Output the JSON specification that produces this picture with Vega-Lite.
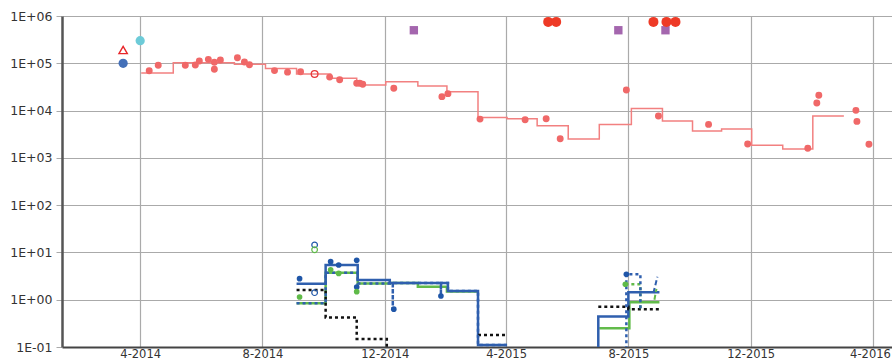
{
  "$schema": "https://vega.github.io/schema/vega-lite/v6.json",
  "width": 830,
  "height": 331,
  "autosize": {"type": "none"},
  "padding": {"left": 62, "top": 16, "right": 0, "bottom": 13},
  "background": "white",
  "config": {
    "view": {"stroke": null},
    "axis": {"labelFont": "DejaVu Sans", "labelColor": "#333", "labelFontSize": 12.5}
  },
  "datasets": {
    "redStep": [
      {"d": "2014-04-02", "v": 62000},
      {"d": "2014-05-04", "v": 103000},
      {"d": "2014-07-04", "v": 95000},
      {"d": "2014-08-04", "v": 78000},
      {"d": "2014-09-04", "v": 59000},
      {"d": "2014-10-08", "v": 48000},
      {"d": "2014-11-03", "v": 34800},
      {"d": "2014-12-02", "v": 40800},
      {"d": "2015-01-03", "v": 33000},
      {"d": "2015-02-01", "v": 25000},
      {"d": "2015-03-04", "v": 7100},
      {"d": "2015-04-02", "v": 6700},
      {"d": "2015-05-02", "v": 4800},
      {"d": "2015-06-02", "v": 2500},
      {"d": "2015-07-03", "v": 5100},
      {"d": "2015-08-04", "v": 11000},
      {"d": "2015-09-04", "v": 6000},
      {"d": "2015-10-04", "v": 3700},
      {"d": "2015-11-02", "v": 4100},
      {"d": "2015-12-02", "v": 1850},
      {"d": "2016-01-02", "v": 1540},
      {"d": "2016-02-01", "v": 7700},
      {"d": "2016-03-03", "v": 7700}
    ],
    "redDots": [
      {"d": "2014-04-10", "v": 69700},
      {"d": "2014-04-19", "v": 90800},
      {"d": "2014-05-16", "v": 90800},
      {"d": "2014-05-26", "v": 92000},
      {"d": "2014-05-30", "v": 112000},
      {"d": "2014-06-08", "v": 121000},
      {"d": "2014-06-14", "v": 105000},
      {"d": "2014-06-14", "v": 74600},
      {"d": "2014-06-20", "v": 117000},
      {"d": "2014-07-07", "v": 131000},
      {"d": "2014-07-14", "v": 106000},
      {"d": "2014-07-19", "v": 93000},
      {"d": "2014-08-13", "v": 70000},
      {"d": "2014-08-26", "v": 65000},
      {"d": "2014-09-08", "v": 66000},
      {"d": "2014-10-07", "v": 51000},
      {"d": "2014-10-17", "v": 45000},
      {"d": "2014-11-03", "v": 37700},
      {"d": "2014-11-06", "v": 37700},
      {"d": "2014-11-09", "v": 36000},
      {"d": "2014-12-10", "v": 29600},
      {"d": "2015-01-27", "v": 19700},
      {"d": "2015-02-02", "v": 22800},
      {"d": "2015-03-06", "v": 6600},
      {"d": "2015-04-20", "v": 6400},
      {"d": "2015-05-11", "v": 6700},
      {"d": "2015-05-25", "v": 2540},
      {"d": "2015-07-30", "v": 27200},
      {"d": "2015-08-31", "v": 7700},
      {"d": "2015-10-20", "v": 5100},
      {"d": "2015-11-28", "v": 1960},
      {"d": "2016-01-27", "v": 1590},
      {"d": "2016-02-05", "v": 14500},
      {"d": "2016-02-07", "v": 21000},
      {"d": "2016-03-15", "v": 10100},
      {"d": "2016-03-16", "v": 5900},
      {"d": "2016-03-28", "v": 1940}
    ],
    "redOpen": [{"d": "2014-09-22", "v": 59400}],
    "redTriangle": [{"d": "2014-03-15", "v": 191000}],
    "blueBig": [{"d": "2014-03-15", "v": 100000}],
    "cyan": [{"d": "2014-04-01", "v": 300000}],
    "purple": [
      {"d": "2014-12-30", "v": 500000},
      {"d": "2015-07-22", "v": 500000},
      {"d": "2015-09-07", "v": 500000}
    ],
    "bigRed": [
      {"d": "2015-05-13", "v": 750000},
      {"d": "2015-05-21", "v": 750000},
      {"d": "2015-08-26", "v": 750000},
      {"d": "2015-09-08", "v": 750000},
      {"d": "2015-09-17", "v": 750000}
    ],
    "greenSolid": [
      {"g": 1, "d": "2014-09-04", "v": 0.84},
      {"g": 1, "d": "2014-10-03", "v": 3.7},
      {"g": 1, "d": "2014-11-04", "v": 2.2},
      {"g": 1, "d": "2014-12-06", "v": 2.27},
      {"g": 1, "d": "2015-01-03", "v": 1.89},
      {"g": 1, "d": "2015-02-01", "v": 1.5},
      {"g": 1, "d": "2015-03-04", "v": 1.5},
      {"g": 2, "d": "2015-07-03", "v": 0.25},
      {"g": 2, "d": "2015-08-02", "v": 0.88},
      {"g": 2, "d": "2015-09-01", "v": 0.88}
    ],
    "blueSolid": [
      {"g": 1, "d": "2014-09-04", "v": 2.18},
      {"g": 1, "d": "2014-10-03", "v": 5.4},
      {"g": 1, "d": "2014-11-04", "v": 2.6},
      {"g": 1, "d": "2014-12-06", "v": 2.27},
      {"g": 1, "d": "2015-02-02", "v": 1.53},
      {"g": 1, "d": "2015-03-04", "v": 0.11},
      {"g": 1, "d": "2015-04-02", "v": 0.11},
      {"g": 2, "d": "2015-07-02", "v": 0.05},
      {"g": 2, "d": "2015-07-02", "v": 0.44},
      {"g": 2, "d": "2015-08-01", "v": 1.44},
      {"g": 2, "d": "2015-09-01", "v": 1.44}
    ],
    "blackDotted": [
      {"g": 1, "d": "2014-09-04", "v": 1.61},
      {"g": 1, "d": "2014-10-03", "v": 0.42},
      {"g": 1, "d": "2014-11-03", "v": 0.148},
      {"g": 1, "d": "2014-12-03", "v": 0.05},
      {"g": 1, "d": "2014-12-10", "v": 0.05},
      {"g": 2, "d": "2015-03-04", "v": 0.18},
      {"g": 2, "d": "2015-04-02", "v": 0.18},
      {"g": 3, "d": "2015-07-02", "v": 0.71},
      {"g": 3, "d": "2015-08-01", "v": 0.63},
      {"g": 3, "d": "2015-09-01", "v": 0.63}
    ],
    "greenDotted": [
      {"d": "2015-07-29", "v": 2.12},
      {"d": "2015-08-13", "v": 0.6}
    ],
    "blueDotted": [
      {"g": 1, "d": "2014-09-04", "v": 0.84},
      {"g": 1, "d": "2014-10-03", "v": 3.7},
      {"g": 1, "d": "2014-11-04", "v": 2.2},
      {"g": 1, "d": "2014-12-06", "v": 2.27},
      {"g": 1, "d": "2014-12-09", "v": 0.63},
      {"g": 1, "d": "2014-12-09", "v": 2.27},
      {"g": 1, "d": "2015-01-26", "v": 1.2},
      {"g": 1, "d": "2015-01-26", "v": 2.27},
      {"g": 1, "d": "2015-02-02", "v": 1.53},
      {"g": 1, "d": "2015-03-04", "v": 0.11},
      {"g": 1, "d": "2015-04-02", "v": 0.11},
      {"g": 2, "d": "2015-07-30", "v": 0.05},
      {"g": 2, "d": "2015-07-30", "v": 3.45},
      {"g": 2, "d": "2015-08-13", "v": 0.63}
    ],
    "blueDash": [
      {"d": "2015-08-26", "v": 1.39},
      {"d": "2015-08-30", "v": 3.07}
    ],
    "greenDash": [
      {"d": "2015-08-27", "v": 1.0},
      {"d": "2015-08-29", "v": 1.7}
    ],
    "blueDots": [
      {"d": "2014-09-07", "v": 2.79},
      {"d": "2014-10-08", "v": 6.37},
      {"d": "2014-10-16", "v": 5.43},
      {"d": "2014-11-03", "v": 6.8},
      {"d": "2014-11-03", "v": 1.86},
      {"d": "2014-12-10", "v": 0.63},
      {"d": "2015-01-26", "v": 1.2},
      {"d": "2015-07-30", "v": 3.45}
    ],
    "greenDots": [
      {"d": "2014-09-07", "v": 1.14},
      {"d": "2014-10-08", "v": 4.3},
      {"d": "2014-10-16", "v": 3.6},
      {"d": "2014-11-03", "v": 1.48},
      {"d": "2015-07-29", "v": 2.12}
    ],
    "blueOpen": [
      {"d": "2014-09-22", "v": 14.4},
      {"d": "2014-09-22", "v": 1.41}
    ],
    "greenOpen": [{"d": "2014-09-22", "v": 11.4}]
  },
  "encoding": {
    "x": {
      "field": "d",
      "type": "temporal",
      "scale": {
        "type": "utc",
        "domain": [
          {"year": 2014, "month": 1, "date": 13, "utc": true},
          {"year": 2016, "month": 4, "date": 20, "utc": true}
        ],
        "nice": false
      },
      "axis": {
        "title": null,
        "format": "%-m-%Y",
        "values": [
          {"year": 2014, "month": 4, "date": 1, "utc": true},
          {"year": 2014, "month": 8, "date": 1, "utc": true},
          {"year": 2014, "month": 12, "date": 1, "utc": true},
          {"year": 2015, "month": 4, "date": 1, "utc": true},
          {"year": 2015, "month": 8, "date": 1, "utc": true},
          {"year": 2015, "month": 12, "date": 1, "utc": true},
          {"year": 2016, "month": 4, "date": 1, "utc": true}
        ],
        "grid": true,
        "gridColor": "#aaaaaa",
        "gridWidth": 1.2,
        "ticks": false,
        "domainColor": "#444444",
        "domainWidth": 2,
        "labelFontSize": 11.5,
        "labelPadding": 1,
        "labelFlush": false,
        "labelOffset": {"condition": {"test": "datum.value > 1450000000000", "value": -3}, "value": 0}
      }
    },
    "y": {
      "field": "v",
      "type": "quantitative",
      "scale": {"type": "log", "domain": [0.1, 1000000], "nice": false},
      "axis": {
        "title": null,
        "values": [0.1, 1, 10, 100, 1000, 10000, 100000, 1000000],
        "labelExpr": "datum.value < 1 ? '1E-01' : '1E+0' + round(log(datum.value) / LN10)",
        "grid": true,
        "gridColor": "#aaaaaa",
        "gridWidth": 1,
        "tickColor": "#aaaaaa",
        "tickSize": 6,
        "domainColor": "#555555",
        "domainWidth": 2.5,
        "labelPadding": 4
      }
    }
  },
  "layer": [
    {
      "data": {"name": "redStep"},
      "mark": {"type": "line", "interpolate": "step-after", "color": "#f28080", "strokeWidth": 1.5, "clip": true}
    },
    {
      "data": {"name": "redDots"},
      "mark": {"type": "point", "shape": "circle", "filled": true, "color": "#f06868", "opacity": 1, "size": 48}
    },
    {
      "data": {"name": "redOpen"},
      "mark": {"type": "point", "shape": "circle", "filled": false, "color": "#e8383a", "strokeWidth": 1.3, "opacity": 1, "size": 45}
    },
    {
      "data": {"name": "redTriangle"},
      "mark": {"type": "point", "shape": "triangle-up", "filled": false, "color": "#e8262a", "strokeWidth": 1.4, "opacity": 1, "size": 70}
    },
    {
      "data": {"name": "blueBig"},
      "mark": {"type": "point", "shape": "circle", "filled": true, "color": "#4470b8", "opacity": 1, "size": 85}
    },
    {
      "data": {"name": "cyan"},
      "mark": {"type": "point", "shape": "circle", "filled": true, "color": "#6dcbd8", "opacity": 1, "size": 85}
    },
    {
      "data": {"name": "purple"},
      "mark": {"type": "point", "shape": "square", "filled": true, "color": "#a466ae", "opacity": 1, "size": 70}
    },
    {
      "data": {"name": "bigRed"},
      "mark": {"type": "point", "shape": "circle", "filled": true, "color": "#ee3a26", "opacity": 1, "size": 100}
    },
    {
      "data": {"name": "greenSolid"},
      "mark": {"type": "line", "interpolate": "step-after", "color": "#62bb4a", "strokeWidth": 2.5, "clip": true},
      "encoding": {"detail": {"field": "g"}}
    },
    {
      "data": {"name": "blueSolid"},
      "mark": {"type": "line", "interpolate": "step-after", "color": "#2f5fae", "strokeWidth": 2.5, "clip": true},
      "encoding": {"detail": {"field": "g"}}
    },
    {
      "data": {"name": "blackDotted"},
      "mark": {"type": "line", "interpolate": "step-after", "color": "#111111", "strokeWidth": 2.5, "strokeDash": [3, 3], "clip": true},
      "encoding": {"detail": {"field": "g"}}
    },
    {
      "data": {"name": "greenDotted"},
      "mark": {"type": "line", "interpolate": "step-after", "color": "#62bb4a", "strokeWidth": 2.5, "strokeDash": [3, 3], "clip": true},
      "encoding": {}
    },
    {
      "data": {"name": "blueDotted"},
      "mark": {"type": "line", "interpolate": "step-after", "color": "#2f5fae", "strokeWidth": 2.5, "strokeDash": [3, 3], "clip": true},
      "encoding": {"detail": {"field": "g"}}
    },
    {
      "data": {"name": "greenDash"},
      "mark": {"type": "line", "color": "#62bb4a", "strokeWidth": 2, "strokeDash": [5, 3], "clip": true},
      "encoding": {}
    },
    {
      "data": {"name": "blueDash"},
      "mark": {"type": "line", "color": "#2f5fae", "strokeWidth": 2, "strokeDash": [5, 3], "clip": true},
      "encoding": {}
    },
    {
      "data": {"name": "blueDots"},
      "mark": {"type": "point", "shape": "circle", "filled": true, "color": "#1f56a8", "opacity": 1, "size": 32}
    },
    {
      "data": {"name": "greenDots"},
      "mark": {"type": "point", "shape": "circle", "filled": true, "color": "#5fba48", "opacity": 1, "size": 32}
    },
    {
      "data": {"name": "blueOpen"},
      "mark": {"type": "point", "shape": "circle", "filled": false, "color": "#1f56a8", "strokeWidth": 1.2, "opacity": 1, "size": 32}
    },
    {
      "data": {"name": "greenOpen"},
      "mark": {"type": "point", "shape": "circle", "filled": false, "color": "#5fba48", "strokeWidth": 1.2, "opacity": 1, "size": 32}
    }
  ]
}
